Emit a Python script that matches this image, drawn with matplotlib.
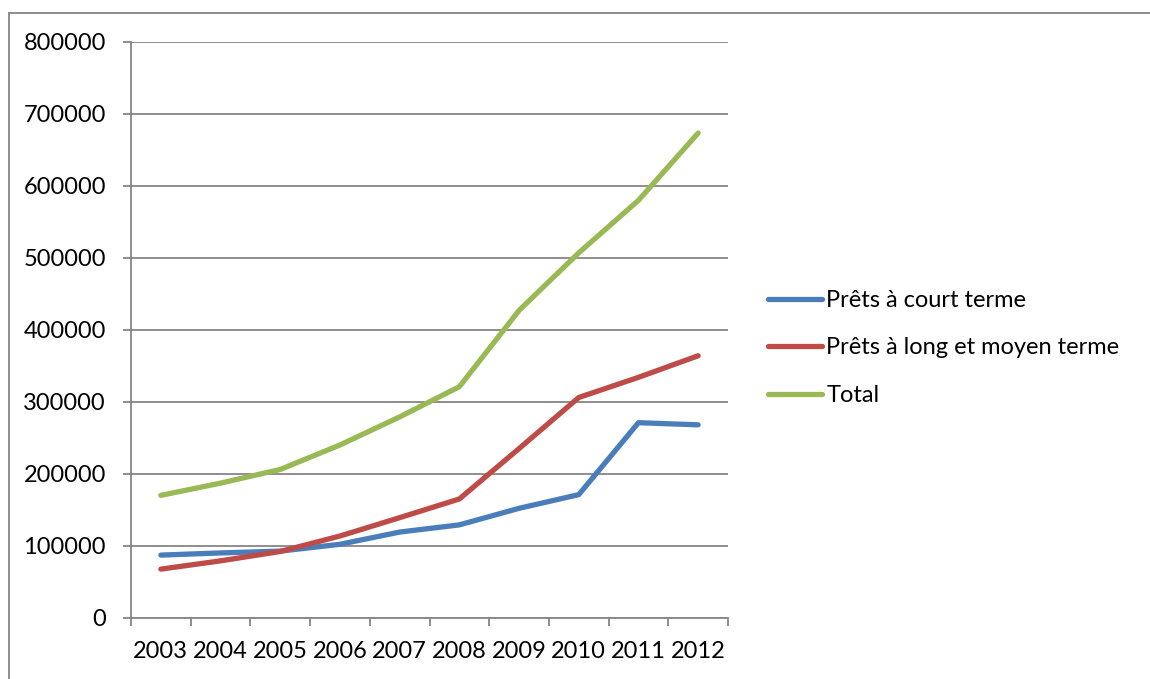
import numpy as np
import matplotlib
matplotlib.use("Agg")
from matplotlib import pyplot as plt
from matplotlib.lines import Line2D

# data
years = ["2003", "2004", "2005", "2006", "2007", "2008", "2009", "2010", "2011", "2012"]
court_terme = [87000, 90000, 92500, 102000, 119000, 129000, 152000, 171000, 271000, 268000]
long_moyen_terme = [67500, 79000, 92000, 113500, 139000, 165000, 235000, 306000, 334000, 364000]
total = [170000, 187000, 206000, 240000, 279000, 321000, 427000, 507000, 580000, 673500]

series_labels = ["Prêts à court terme", "Prêts à long et moyen terme", "Total"]
series_colors = ["#4A7EBB", "#BE4B48", "#98B954"]

plt.rcParams["font.family"] = ["Lato", "DejaVu Sans"]
FS = 17
GRID = "#868686"

fig = plt.figure(figsize=(11.5, 6.79), dpi=100)
ax = fig.add_axes([131 / 1150, 1 - 617.7 / 679, (728 - 131) / 1150, (617.7 - 42) / 679])

x = np.arange(len(years))
for vals, lab, col in zip([court_terme, long_moyen_terme, total], series_labels, series_colors):
    ax.plot(x, vals, color=col, lw=3.8, label=lab, solid_capstyle="round", solid_joinstyle="round")

ax.set_ylim(0, 800000)
ax.set_xlim(-0.5, len(years) - 0.5)
ax.set_yticks(np.arange(0, 800001, 100000))
ax.set_yticklabels([str(v) for v in range(0, 800001, 100000)], fontsize=FS)
ax.yaxis.grid(True, color=GRID, lw=1.3)
ax.set_axisbelow(True)

# category boundaries as major ticks, labels on minor ticks
ax.set_xticks(np.arange(-0.5, len(years), 1.0))
ax.set_xticklabels([])
ax.set_xticks(x, minor=True)
ax.set_xticklabels(years, minor=True, fontsize=FS)
ax.tick_params(axis="x", which="minor", length=0, pad=17)
ax.tick_params(axis="x", which="major", length=6, width=1.3, color=GRID, direction="out")
ax.tick_params(axis="y", length=6, width=1.3, color=GRID, pad=12)

for side in ["top", "right"]:
    ax.spines[side].set_visible(False)
for side in ["left", "bottom"]:
    ax.spines[side].set_color(GRID)
    ax.spines[side].set_linewidth(1.3)

handles = [Line2D([0], [0], color=c, lw=3.8, solid_capstyle="round") for c in series_colors]
fig.legend(handles, series_labels, loc="center left", bbox_to_anchor=(768 / 1150, 1 - 348 / 679),
           frameon=False, fontsize=FS, handlelength=2.3, handletextpad=0.17, labelspacing=1.13,
           borderpad=0, borderaxespad=0)

# outer chart frame
fig.add_artist(Line2D([9 / 1150, 9 / 1150], [0, 1 - 13 / 679], color=GRID, lw=1.3, transform=fig.transFigure))
fig.add_artist(Line2D([9 / 1150, 1], [1 - 13 / 679, 1 - 13 / 679], color=GRID, lw=1.3, transform=fig.transFigure))

fig.savefig("out.png", dpi=100)
